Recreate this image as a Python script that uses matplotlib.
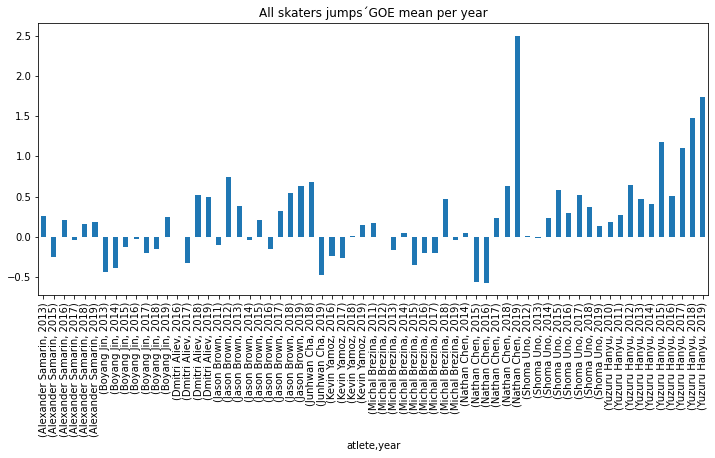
import numpy as np
import pandas as pd
import matplotlib
matplotlib.use("Agg")
import matplotlib.pyplot as plt

athletes = (["Alexander Samarin"] * 6 + ["Boyang Jin"] * 7 + ["Dmitri Aliev"] * 4
            + ["Jason Brown"] * 9 + ["Junhwan Cha"] * 2 + ["Kevin Yamoz"] * 4
            + ["Michal Brezina"] * 9 + ["Nathan Chen"] * 6 + ["Shoma Uno"] * 8
            + ["Yuzuru Hanyu"] * 10)
years = ([2013, 2015, 2016, 2017, 2018, 2019]
         + [2013, 2014, 2015, 2016, 2017, 2018, 2019]
         + [2016, 2017, 2018, 2019]
         + list(range(2011, 2020))
         + [2018, 2019]
         + [2016, 2017, 2018, 2019]
         + list(range(2011, 2020))
         + list(range(2014, 2020))
         + list(range(2012, 2020))
         + list(range(2010, 2020)))
goe_mean = [0.26, -0.255, 0.21, -0.037, 0.16, 0.185,
            -0.44, -0.39, -0.13, -0.025, -0.20, -0.15, 0.247,
            -0.008, -0.32, 0.52, 0.495,
            -0.10, 0.74, 0.383, -0.045, 0.21, -0.15, 0.32, 0.548, 0.63,
            0.68, -0.48,
            -0.243, -0.26, 0.012, 0.148,
            0.173, -0.008, -0.169, 0.05, -0.346, -0.198, -0.198, 0.47, -0.045,
            0.05, -0.556, -0.569, 0.235, 0.63, 2.50,
            0.012, -0.02, 0.235, 0.58, 0.297, 0.52, 0.37, 0.136,
            0.185, 0.272, 0.643, 0.47, 0.408, 1.174, 0.507, 1.10, 1.471, 1.743]

idx = pd.MultiIndex.from_arrays([athletes, years], names=["atlete", "year"])
s = pd.Series(goe_mean, index=idx)

plt.rcParams["font.size"] = 10
fig = plt.figure(figsize=(715 / 72, 458 / 72), dpi=72, facecolor="white")
ax = fig.add_axes([0.0536, 0.356, 0.9366, 0.593])
s.plot.bar(ax=ax, color="#1f77b4")
ax.set_title("All skaters jumps\u00b4GOE mean per year")
ax.set_xlabel("atlete,year")
fig.savefig("out.png", dpi=72, facecolor="white")
